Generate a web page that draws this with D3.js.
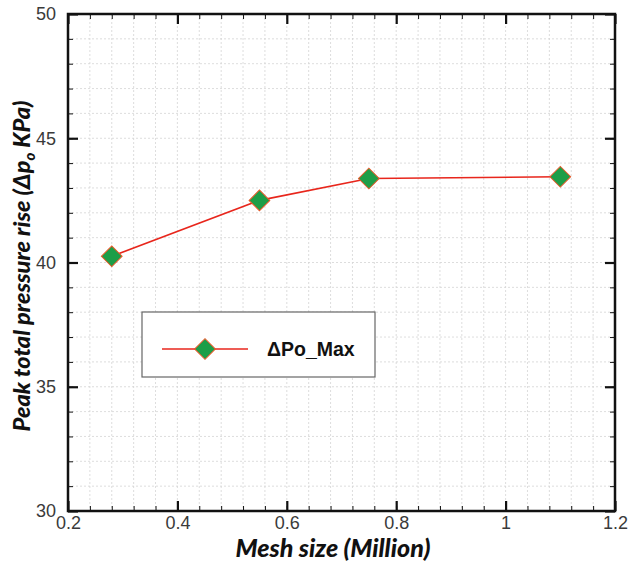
<html>
<head>
    <script src="https://d3js.org/d3.v7.min.js"></script>
    <style>
        body { margin: 0; background: #fff; }
        .tick text { font-family: "Liberation Sans", Arial, sans-serif; fill: #3a3a3a; }
    </style>
</head>
<body>
    <div id="chart">
        <svg width="629" height="564"></svg>
    </div>
    <script>
        // values
        var meshSize = [0.28, 0.55, 0.75, 1.1]
        var peakRise = [40.25, 42.5, 43.38, 43.45]
        var xTicks = [0.2, 0.4, 0.6, 0.8, 1, 1.2]
        var yTicks = [30, 35, 40, 45, 50]
        var seriesName = 'ΔPo_Max'

        var svg = d3.select('#chart svg')
        var pLeft = 68, pRight = 615, pTop = 14, pBottom = 511

        var x = d3.scaleLinear().domain([0.2, 1.2]).range([pLeft, pRight])
        var y = d3.scaleLinear().domain([30, 50]).range([pBottom, pTop])

        var xMinor = d3.range(0.2, 1.2001, 0.04)
        var yMinor = d3.range(30, 50.001, 1)

        // light dashed grid
        var grid = svg.append('g')
        grid.selectAll('line.gx')
            .data(xMinor)
            .enter()
            .append('line')
            .attr('x1', function(d) { return x(d) })
            .attr('x2', function(d) { return x(d) })
            .attr('y1', pTop)
            .attr('y2', pBottom)
            .attr('stroke', '#d4d4d4')
            .attr('stroke-width', 0.8)
            .attr('stroke-dasharray', '2,2')
        grid.selectAll('line.gy')
            .data(yMinor)
            .enter()
            .append('line')
            .attr('y1', function(d) { return y(d) })
            .attr('y2', function(d) { return y(d) })
            .attr('x1', pLeft)
            .attr('x2', pRight)
            .attr('stroke', '#d4d4d4')
            .attr('stroke-width', 0.8)
            .attr('stroke-dasharray', '2,2')

        function fmt(d) { return d3.format('~g')(d) }

        // ticks point inwards on all four sides, labels only left and bottom
        var axes = [
            { ax: d3.axisBottom(x), t: 'translate(0,' + pBottom + ')', ticks: xMinor, labels: false, size: -5 },
            { ax: d3.axisTop(x), t: 'translate(0,' + pTop + ')', ticks: xMinor, labels: false, size: -5 },
            { ax: d3.axisLeft(y), t: 'translate(' + pLeft + ',0)', ticks: yMinor, labels: false, size: -5 },
            { ax: d3.axisRight(y), t: 'translate(' + pRight + ',0)', ticks: yMinor, labels: false, size: -5 },
            { ax: d3.axisBottom(x), t: 'translate(0,' + pBottom + ')', ticks: xTicks, labels: true, size: -10, pad: 5 },
            { ax: d3.axisTop(x), t: 'translate(0,' + pTop + ')', ticks: xTicks, labels: false, size: -10 },
            { ax: d3.axisLeft(y), t: 'translate(' + pLeft + ',0)', ticks: yTicks, labels: true, size: -10, pad: 12 },
            { ax: d3.axisRight(y), t: 'translate(' + pRight + ',0)', ticks: yTicks, labels: false, size: -10 }
        ]
        axes.forEach(function(a) {
            a.ax.tickValues(a.ticks).tickSize(a.size).tickPadding(a.pad || 3)
                .tickFormat(a.labels ? fmt : function() { return '' })
            var g = svg.append('g').attr('transform', a.t).call(a.ax)
            g.select('.domain').remove()
            g.selectAll('.tick line')
                .attr('stroke', '#111')
                .attr('stroke-width', a.size == -10 ? 2.2 : 1)
            g.selectAll('.tick text').style('font-size', '18px')
        })

        // frame
        svg.append('rect')
            .attr('x', pLeft)
            .attr('y', pTop)
            .attr('width', pRight - pLeft)
            .attr('height', pBottom - pTop)
            .attr('fill', 'none')
            .attr('stroke', '#111')
            .attr('stroke-width', 2.5)

        var pts = meshSize.map(function(d, i) { return [d, peakRise[i]] })

        var line = d3.line()
            .x(function(d) { return x(d[0]) })
            .y(function(d) { return y(d[1]) })

        svg.append('path')
            .datum(pts)
            .attr('d', line)
            .attr('fill', 'none')
            .attr('stroke', '#e8261c')
            .attr('stroke-width', 1.6)

        var diamond = d3.symbol().type(d3.symbolSquare).size(215)

        svg.selectAll('path.mark')
            .data(pts)
            .enter()
            .append('path')
            .classed('mark', true)
            .attr('d', diamond)
            .attr('transform', function(d) { return 'translate(' + x(d[0]) + ',' + y(d[1]) + ') rotate(45)' })
            .attr('fill', '#1d9e48')
            .attr('stroke', '#e85a2a')
            .attr('stroke-width', 1)

        // legend
        var lg = svg.append('g')
        lg.append('rect')
            .attr('x', 142)
            .attr('y', 312)
            .attr('width', 233)
            .attr('height', 65)
            .attr('fill', '#fff')
            .attr('stroke', '#666')
            .attr('stroke-width', 1.2)
        lg.append('line')
            .attr('x1', 162)
            .attr('x2', 248)
            .attr('y1', 349)
            .attr('y2', 349)
            .attr('stroke', '#e8261c')
            .attr('stroke-width', 1.6)
        lg.append('path')
            .attr('d', diamond)
            .attr('transform', 'translate(205,349) rotate(45)')
            .attr('fill', '#1d9e48')
            .attr('stroke', '#e85a2a')
            .attr('stroke-width', 1)
        lg.append('text')
            .attr('x', 267)
            .attr('y', 356)
            .style('font-family', '"Liberation Sans", Arial, sans-serif')
            .style('font-weight', 'bold')
            .style('font-size', '19.5px')
            .attr('fill', '#111')
            .text(seriesName)

        // axis titles
        svg.append('text')
            .attr('x', 333)
            .attr('y', 557)
            .attr('text-anchor', 'middle')
            .style('font-family', 'Lato, "Open Sans", sans-serif')
            .style('font-weight', '900')
            .style('font-style', 'italic')
            .style('font-size', '25px')
            .attr('fill', '#111')
            .text('Mesh size (Million)')

        var yt = svg.append('text')
            .attr('transform', 'translate(30,266) rotate(-90)')
            .attr('text-anchor', 'middle')
            .style('font-family', 'Lato, "Open Sans", sans-serif')
            .style('font-weight', '900')
            .style('font-style', 'italic')
            .style('font-size', '23.5px')
            .attr('fill', '#111')
        yt.append('tspan').text('Peak total pressure rise (Δp')
        yt.append('tspan').attr('dy', 5).style('font-size', '15px').text('o')
        yt.append('tspan').attr('dy', -5).text(' KPa)')
    </script>
</body>
</html>
